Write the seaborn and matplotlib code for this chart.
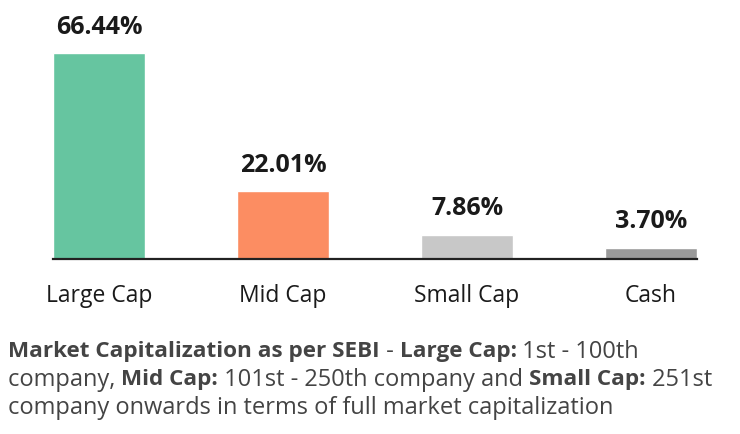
import matplotlib
matplotlib.use("Agg")
import matplotlib.pyplot as plt
import seaborn as sns
import pandas as pd

categories = ["Large Cap", "Mid Cap", "Small Cap", "Cash"]
values = [66.44, 22.01, 7.86, 3.70]
value_labels = ["66.44%", "22.01%", "7.86%", "3.70%"]
colors = ["#66c5a0", "#fc8d62", "#c8c8c8", "#9a9a9a"]

footnote = [
    [("Market Capitalization as per SEBI", True), (" - ", False), ("Large Cap:", True), (" 1st - 100th", False)],
    [("company, ", False), ("Mid Cap:", True), (" 101st - 250th company and ", False), ("Small Cap:", True), (" 251st", False)],
    [("company onwards in terms of full market capitalization", False)],
]

sns.set_theme(style="white")
plt.rcParams["font.family"] = ["Open Sans", "DejaVu Sans"]

df = pd.DataFrame({"category": categories, "value": values})

fig = plt.figure(figsize=(7.4, 4.35), dpi=100)
W, H = 740, 435
ax = fig.add_axes([53 / W, 1 - 260 / H, (697 - 53) / W, 217 / H])

sns.barplot(data=df, x="category", y="value", hue="category", palette=colors,
            width=0.5, legend=False, ax=ax, saturation=1)
ax.set_xlim(-0.25, 3.25)
ax.set_ylim(0, 70)
ax.set_xlabel("")
ax.set_ylabel("")
ax.set_yticks([])
for s in ["top", "right", "left"]:
    ax.spines[s].set_visible(False)
ax.spines["bottom"].set_color("#222222")
ax.spines["bottom"].set_linewidth(1.6)
ax.tick_params(axis="x", length=0, pad=17, labelsize=16.5, labelcolor="#1a1a1a")

for i, (v, lab) in enumerate(zip(values, value_labels)):
    ax.annotate(lab, (i, v), xytext=(0, 14.5), textcoords="offset points",
                ha="center", va="baseline", fontsize=18, fontweight="bold",
                color="#1a1a1a", clip_on=False)

fig.canvas.draw()
renderer = fig.canvas.get_renderer()
y0 = 352
for li, line in enumerate(footnote):
    x = 8
    y = y0 + li * 28
    for text, bold in line:
        t = fig.text(x / W, 1 - y / H, text, fontsize=16.2 if bold else 17,
                     fontweight="bold" if bold else "normal",
                     color="#444444", ha="left", va="center")
        bb = t.get_window_extent(renderer=renderer)
        x += bb.width

fig.savefig("out.png", dpi=100)
